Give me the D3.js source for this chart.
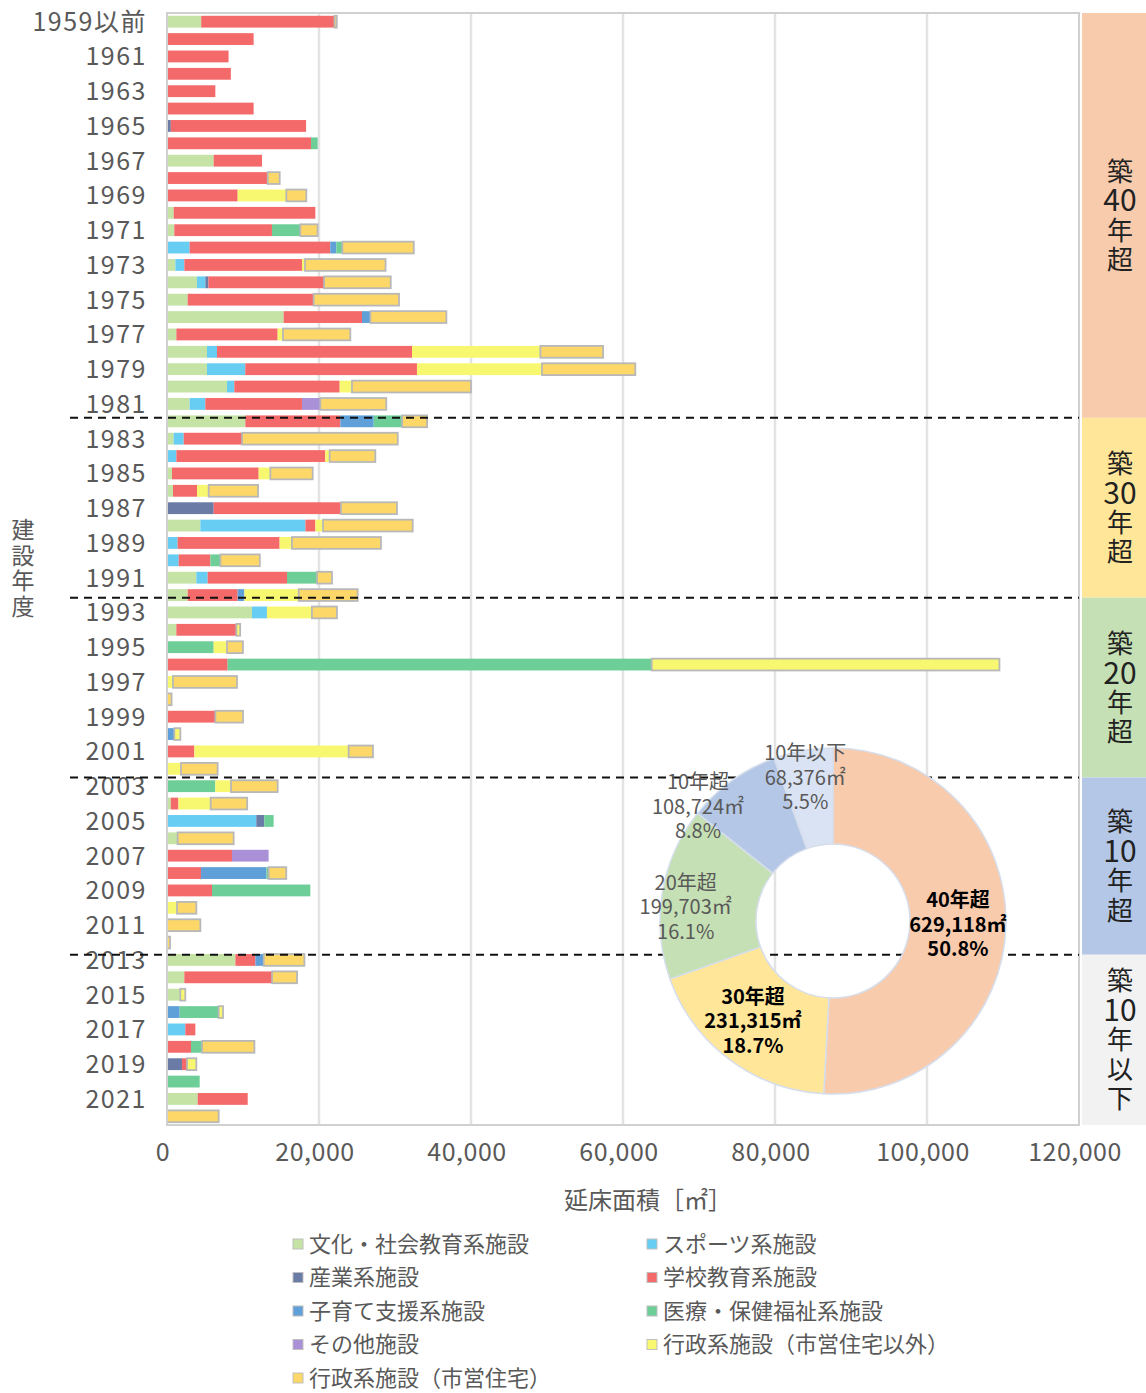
<!DOCTYPE html>
<html>
<head>
<meta charset="utf-8">
<script src="https://cdn.jsdelivr.net/npm/d3@7"></script>
<style>
body { margin: 0; background: #fff; }
text { font-family: "Noto Sans CJK JP", "Noto Sans", sans-serif; }
</style>
</head>
<body>
<svg id="chart" width="1146" height="1393"></svg>
<script>
// 建設年度（1959以前 〜 2022）
var years = ["1959以前","1960","1961","1962","1963","1964","1965","1966","1967","1968",
  "1969","1970","1971","1972","1973","1974","1975","1976","1977","1978",
  "1979","1980","1981","1982","1983","1984","1985","1986","1987","1988",
  "1989","1990","1991","1992","1993","1994","1995","1996","1997","1998",
  "1999","2000","2001","2002","2003","2004","2005","2006","2007","2008",
  "2009","2010","2011","2012","2013","2014","2015","2016","2017","2018",
  "2019","2020","2021","2022"];

// 延床面積 [㎡] per category, one value per year above
var bunka = [4500,0,0,0,0,0,0,0,6140,0,
  0,880,960,0,1100,3950,2720,15350,1230,5260,
  5260,7900,2980,10310,880,0,660,790,0,4390,
  0,0,3860,2720,11180,1230,0,0,0,0,
  0,0,0,0,0,500,0,1400,0,0,
  0,0,0,0,9000,2280,1750,0,0,0,
  0,0,4040,0];
var sport = [0,0,0,0,0,0,0,0,0,0,
  0,0,0,2980,1180,1100,0,0,0,1320,
  5040,960,2060,0,1320,1230,0,0,0,13820,
  1400,1540,1490,0,1970,0,0,0,0,0,
  0,0,0,0,0,0,11750,0,0,0,
  0,0,0,0,0,0,0,0,2410,0,
  0,0,0,0];
var sangyo = [0,0,0,0,0,0,500,0,0,0,
  0,0,0,0,0,400,0,0,0,0,
  0,0,0,0,0,0,0,0,6140,0,
  0,0,0,0,0,0,0,0,0,0,
  0,0,0,0,0,0,1050,0,0,0,
  0,0,0,0,0,0,0,0,0,0,
  1970,0,0,0];
var gakko = [17540,11400,8100,8400,6360,11400,17800,18950,6360,13250,
  9300,18640,12850,18500,15480,15220,16580,10310,13330,25660,
  22590,13860,12720,12500,7680,19600,11400,3160,16750,1320,
  13420,4170,10440,6580,0,7900,0,7980,0,0,
  6360,0,3600,0,0,1000,0,0,8550,4470,
  5920,0,0,0,2630,11540,0,0,1320,3160,
  660,0,6580,0];
var kosodate = [0,0,0,0,0,0,0,0,0,0,
  0,0,0,800,0,0,0,1100,0,0,
  0,0,0,4390,0,0,0,0,0,0,
  0,0,0,880,0,0,0,0,0,0,
  0,960,0,0,0,0,0,0,0,8600,
  0,0,0,0,1100,0,0,1670,0,0,
  0,0,0,0];
var iryo = [0,0,0,0,0,0,0,880,0,0,
  0,0,3730,800,0,0,0,0,0,0,
  0,0,0,3730,0,0,0,0,0,0,
  0,1320,3950,0,0,0,6140,55800,0,0,
  0,0,0,0,6360,0,1230,0,0,300,
  12940,0,0,0,0,0,0,5130,0,1450,
  0,4300,0,0];
var sonota = [0,0,0,0,0,0,0,0,0,0,
  0,0,0,0,0,0,0,0,0,0,
  0,0,2410,0,0,0,0,0,0,0,
  0,0,0,0,0,0,0,0,0,0,
  0,0,0,0,0,0,0,0,4820,0,
  0,0,0,0,0,0,0,0,0,0,
  0,0,0,0];
var gyosei = [0,0,0,0,0,0,0,0,0,0,
  6400,0,0,0,400,0,0,0,700,16890,
  16450,1620,0,0,0,570,1540,1540,0,1000,
  1620,0,0,7150,5920,500,1750,45750,790,0,
  0,800,20300,1840,2060,4250,0,0,0,0,
  0,1320,0,0,0,0,660,570,0,0,
  1230,0,0,0];
var jutaku = [300,0,0,0,0,0,0,0,0,1580,
  2630,0,2280,9390,10600,8770,11230,10000,8860,8250,
  12280,15660,8680,3290,20480,6010,5570,6490,7370,11800,
  11710,5180,1970,7760,3290,0,2100,0,8420,600,
  3640,0,3200,4820,6140,4800,0,7370,0,2320,
  0,2540,4390,400,5350,3290,0,0,0,6890,
  0,0,0,6800];

var seriesNames = ["文化・社会教育系施設","スポーツ系施設","産業系施設","学校教育系施設",
  "子育て支援系施設","医療・保健福祉系施設","その他施設","行政系施設（市営住宅以外）","行政系施設（市営住宅）"];
var seriesData = [bunka, sport, sangyo, gakko, kosodate, iryo, sonota, gyosei, jutaku];
var seriesColors = ["#c4e3a5","#67cdf2","#6a7ba6","#f46a6a","#5fa0d8","#6dce98","#aa90d6","#f8f870","#fdd868"];

var xTicks = [0, 20000, 40000, 60000, 80000, 100000, 120000];

// 築年数区分（ドーナツ）
var ageNames = ["40年超","30年超","20年超","10年超","10年以下"];
var ageValues = [629118, 231315, 199703, 108724, 68376];
var ageColors = ["#f8cbad","#ffe699","#c5e0b4","#b4c7e7","#dae3f3"];
var panelNames = ["築40年超","築30年超","築20年超","築10年超","築10年以下"];
var panelColors = ["#f8cbad","#ffe699","#c5e0b4","#b4c7e7","#f2f2f2"];

var svg = d3.select("#chart");
var L = 167, R = 1079, T = 13, B = 1125;

var x = d3.scaleLinear().domain([0, 120000]).range([L, R]);
var y = d3.scaleBand().domain(years).range([T, B]).paddingInner(0.32).paddingOuter(0.16);
var rowPos = d3.scaleLinear().domain([0, years.length]).range([T, B]);

var table = years.map(function(yr, i) {
  var row = { year: yr };
  seriesNames.forEach(function(n, k) { row[n] = seriesData[k][i]; });
  return row;
});
var stacked = d3.stack().keys(seriesNames)(table);

// grid
svg.append("g").selectAll("line")
  .data(xTicks.slice(1, -1))
  .enter().append("line")
  .attr("x1", d => x(d)).attr("x2", d => x(d))
  .attr("y1", T).attr("y2", B)
  .attr("stroke", "#e3e3e3").attr("stroke-width", 2.5);

// bars
var lastKey = seriesNames.length - 1;
svg.append("g").selectAll("g")
  .data(stacked)
  .enter().append("g")
  .attr("fill", (d, k) => seriesColors[k])
  .each(function(s, k) {
    d3.select(this).selectAll("rect")
      .data(s.filter(d => d[1] - d[0] > 0))
      .enter().append("rect")
      .attr("x", d => x(d[0]))
      .attr("y", d => y(d.data.year))
      .attr("width", d => x(d[1]) - x(d[0]))
      .attr("height", y.bandwidth())
      .attr("stroke", function(d) {
        if (k === lastKey) return "#b8b8b8";
        if (k === lastKey - 1 && d.data[seriesNames[lastKey]] === 0) return "#b8b8b8";
        return "none";
      })
      .attr("stroke-width", 1.8);
  });

// frame
svg.append("rect")
  .attr("x", L).attr("y", T).attr("width", R - L).attr("height", B - T)
  .attr("fill", "none").attr("stroke", "#d0d0d0").attr("stroke-width", 2);

// y labels
svg.append("g").selectAll("text")
  .data(years.filter((d, i) => i % 2 === 0))
  .enter().append("text")
  .attr("x", 147)
  .attr("y", d => y(d) + y.bandwidth() / 2)
  .attr("dy", "0.36em")
  .attr("text-anchor", "end")
  .attr("font-size", 25)
  .attr("letter-spacing", 1.5)
  .attr("fill", "#595959")
  .text(d => d);

// x labels
svg.append("g").selectAll("text")
  .data(xTicks)
  .enter().append("text")
  .attr("x", d => x(d) - 4)
  .attr("y", 1152)
  .attr("dy", "0.36em")
  .attr("text-anchor", "middle")
  .attr("font-size", 25)
  .attr("letter-spacing", 0.5)
  .attr("fill", "#595959")
  .text(d => d3.format(",")(d));

svg.append("text")
  .attr("x", 648).attr("y", 1200).attr("dy", "0.36em")
  .attr("text-anchor", "middle").attr("font-size", 24).attr("fill", "#595959")
  .text("延床面積［㎡］");

// y title, stacked vertically
svg.append("text")
  .attr("text-anchor", "middle").attr("font-size", 23).attr("fill", "#595959")
  .selectAll("tspan")
  .data("建設年度".split(""))
  .enter().append("tspan")
  .attr("x", 23)
  .attr("y", (d, i) => 530 + i * 25.5)
  .attr("dy", "0.36em")
  .text(d => d);

// right panel + dashed dividers
var cuts = [0, 23.3, 33.65, 44.0, 54.2, years.length];
var panels = panelNames.map((n, i) => ({ name: n, y0: rowPos(cuts[i]), y1: rowPos(cuts[i + 1]), color: panelColors[i] }));

svg.append("g").selectAll("line")
  .data(cuts.slice(1, -1))
  .enter().append("line")
  .attr("x1", 70).attr("x2", R)
  .attr("y1", d => rowPos(d)).attr("y2", d => rowPos(d))
  .attr("stroke", "#111").attr("stroke-width", 2).attr("stroke-dasharray", "8,6");

var pg = svg.append("g").selectAll("g").data(panels).enter().append("g");
pg.append("rect")
  .attr("x", 1082).attr("width", 64)
  .attr("y", d => d.y0).attr("height", d => d.y1 - d.y0)
  .attr("fill", d => d.color);
pg.each(function(p) {
  var parts = p.name.match(/\d+|./g);
  var gap = 29.5;
  var mid = (p.y0 + p.y1) / 2;
  d3.select(this).append("text")
    .attr("text-anchor", "middle")
    .attr("fill", "#222")
    .selectAll("tspan")
    .data(parts)
    .enter().append("tspan")
    .attr("x", 1120)
    .attr("y", (d, i) => mid + (i - (parts.length - 1) / 2) * gap)
    .attr("dy", "0.36em")
    .attr("font-size", d => /\d/.test(d) ? 30 : 26)
    .text(d => d);
});

// donut
var cx = 833, cy = 921, rIn = 77, rOut = 173;
var total = d3.sum(ageValues);
var pie = d3.pie().sort(null)(ageValues);
var arc = d3.arc().innerRadius(rIn).outerRadius(rOut);
var dg = svg.append("g").attr("transform", "translate(" + cx + "," + cy + ")");
dg.selectAll("path")
  .data(pie)
  .enter().append("path")
  .attr("d", arc)
  .attr("fill", (d, i) => ageColors[i])
  .attr("stroke", "#d6deec").attr("stroke-width", 1.5);

var labelR = [125, 128, 148, 177, 146];
var labelShift = [0, 2, -4, -14, -1];
var fmtPct = d3.format(".1%");
dg.selectAll("g.lab")
  .data(pie)
  .enter().append("g")
  .attr("class", "lab")
  .each(function(d, i) {
    var a = (d.startAngle + d.endAngle) / 2 + labelShift[i] * Math.PI / 180;
    var lx = Math.sin(a) * labelR[i], ly = -Math.cos(a) * labelR[i];
    var lines = [ageNames[i], d3.format(",")(ageValues[i]) + "㎡", fmtPct(ageValues[i] / total)];
    d3.select(this).append("text")
      .attr("text-anchor", "middle")
      .attr("font-size", 20)
      .attr("font-weight", i < 2 ? "bold" : "normal")
      .attr("fill", i < 2 ? "#000" : "#595959")
      .selectAll("tspan")
      .data(lines)
      .enter().append("tspan")
      .attr("x", lx)
      .attr("y", (t, j) => ly + (j - 1) * 24.5)
      .attr("dy", "0.36em")
      .text(t => t);
  });

// legend
var lg = svg.append("g").selectAll("g")
  .data(seriesNames)
  .enter().append("g")
  .attr("transform", (d, i) => "translate(" + (i % 2 === 0 ? 293 : 647) + "," + (1244 + Math.floor(i / 2) * 33.5) + ")");
lg.append("rect")
  .attr("x", 0).attr("y", -5).attr("width", 10).attr("height", 10)
  .attr("fill", (d, i) => seriesColors[i])
  .attr("stroke", "#bfbfbf").attr("stroke-width", 1);
lg.append("text")
  .attr("x", 16).attr("y", 0).attr("dy", "0.36em")
  .attr("font-size", 22).attr("fill", "#595959")
  .text(d => d);
</script>
</body>
</html>
